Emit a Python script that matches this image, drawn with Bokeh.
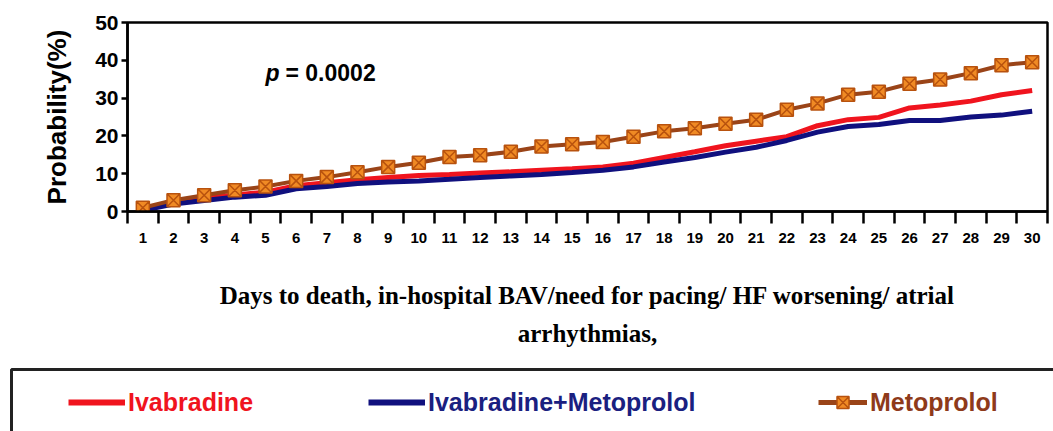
from bokeh.plotting import figure
from bokeh.models import FixedTicker, Label, Legend, LegendItem, Title, Range1d, BoxAnnotation
from bokeh.layouts import column, row
from bokeh.embed import file_html
from bokeh.resources import INLINE

days = list(range(1, 31))
ivabradine = [0.5, 2.5, 3.6, 4.4, 5.1, 6.8, 7.6, 8.4, 9.0, 9.5, 9.8, 10.2, 10.5, 10.9, 11.3,
              11.8, 12.8, 14.3, 15.8, 17.4, 18.6, 19.8, 22.7, 24.3, 24.9, 27.4, 28.2, 29.2, 30.9, 32.0]
ivab_meto = [0.3, 2.0, 2.9, 3.8, 4.3, 6.0, 6.6, 7.4, 7.8, 8.1, 8.5, 9.0, 9.4, 9.8, 10.3,
             10.9, 11.8, 13.1, 14.3, 15.7, 17.0, 18.8, 21.0, 22.5, 23.0, 24.1, 24.1, 25.0, 25.5, 26.5]
metoprolol = [1.0, 3.0, 4.3, 5.6, 6.6, 8.1, 9.1, 10.4, 11.8, 12.9, 14.4, 14.9, 15.8, 17.2, 17.8,
              18.4, 19.8, 21.2, 22.0, 23.2, 24.3, 26.9, 28.6, 30.9, 31.7, 33.8, 34.9, 36.6, 38.7, 39.5]
y_ticks = [0, 10, 20, 30, 40, 50]
series_names = ["Ivabradine", "Ivabradine+Metoprolol", "Metoprolol"]

RED = "#F0141E"
NAVY = "#10107E"
BROWN = "#9A4418"
ORANGE = "#F08A24"
SANS = "Liberation Sans"

p = figure(width=1053, height=360, x_range=(0.5, 30.5), y_range=(0, 50),
           output_backend="svg", toolbar_location=None,
           min_border_left=127, min_border_right=6, min_border_top=22, min_border_bottom=149)
p.xgrid.visible = False
p.ygrid.visible = False
p.outline_line_color = "black"
p.outline_line_width = 2.5

# y axis
p.yaxis.ticker = FixedTicker(ticks=y_ticks)
p.yaxis.axis_line_width = 2.5
p.yaxis.major_tick_line_width = 2.5
p.yaxis.major_tick_out = 6
p.yaxis.major_tick_in = 0
p.yaxis.minor_tick_line_color = None
p.yaxis.major_label_text_font = SANS
p.yaxis.major_label_text_font_style = "bold"
p.yaxis.major_label_text_font_size = "21px"
p.yaxis.major_label_text_color = "black"
p.yaxis.major_label_standoff = 3
p.yaxis.axis_label = "Probability(%)"
p.yaxis.axis_label_text_font = SANS
p.yaxis.axis_label_text_font_style = "bold"
p.yaxis.axis_label_text_font_size = "26px"
p.yaxis.axis_label_text_color = "black"
p.yaxis.axis_label_standoff = 20

# x axis
p.xaxis.ticker = FixedTicker(ticks=days, minor_ticks=[d - 0.5 for d in days] + [30.5])
p.xaxis.axis_line_width = 2.5
p.xaxis.major_tick_out = 0
p.xaxis.major_tick_in = 0
p.xaxis.minor_tick_out = 12
p.xaxis.minor_tick_in = 0
p.xaxis.minor_tick_line_color = "black"
p.xaxis.minor_tick_line_width = 2.5
p.xaxis.major_label_text_font = SANS
p.xaxis.major_label_text_font_style = "bold"
p.xaxis.major_label_text_font_size = "15px"
p.xaxis.major_label_text_color = "black"
p.xaxis.major_label_standoff = 9
p.xaxis.axis_label = "Days to death, in-hospital BAV/need for pacing/ HF worsening/ atrial"
p.xaxis.axis_label_text_font = "Liberation Serif"
p.xaxis.axis_label_text_font_style = "bold"
p.xaxis.axis_label_text_font_size = "25px"
p.xaxis.axis_label_text_color = "black"
p.xaxis.axis_label_standoff = 36

p.add_layout(Title(text="arrhythmias,", align="center", text_font="Liberation Serif",
                   text_font_style="bold", text_font_size="25px", text_color="black",
                   standoff=12), "below")

r_red = p.line(days, ivabradine, line_color=RED, line_width=5)
r_blue = p.line(days, ivab_meto, line_color=NAVY, line_width=5)
r_brown = p.line(days, metoprolol, line_color=BROWN, line_width=4)
r_mark = p.scatter(days, metoprolol, marker="square_x", size=13, fill_color=ORANGE,
                   line_color="#B8520E", line_width=1.5)

p.add_layout(Label(x=138, y=139, x_units="screen", y_units="screen", text="p",
                   text_font=SANS, text_font_style="bold italic",
                   text_font_size="23px", text_baseline="middle", text_color="black"))
p.add_layout(Label(x=158, y=139, x_units="screen", y_units="screen", text="= 0.0002",
                   text_font=SANS, text_font_style="bold",
                   text_font_size="23px", text_baseline="middle", text_color="black"))

# legend strip; proxy renderers lie outside its ranges, the box is cut by the page edge
lg_fig = figure(width=1053, height=71, x_range=Range1d(-1064, -20), y_range=Range1d(-84, -20),
                output_backend="svg", toolbar_location=None,
                x_axis_location=None, y_axis_location=None,
                min_border_left=9, min_border_right=0, min_border_top=7, min_border_bottom=0)
lg_fig.xgrid.visible = False
lg_fig.ygrid.visible = False
lg_fig.outline_line_color = None
lg_fig.add_layout(BoxAnnotation(left=-1062, right=200, top=-22, bottom=-300,
                                fill_alpha=0, line_color="#222222", line_alpha=1.0,
                                line_width=3))

q_red = lg_fig.line(days, ivabradine, line_color=RED, line_width=6)
q_blue = lg_fig.line(days, ivab_meto, line_color=NAVY, line_width=6)
q_brown = lg_fig.line(days, metoprolol, line_color=BROWN, line_width=5)
q_mark = lg_fig.scatter(days, metoprolol, marker="square_x", size=13, fill_color=ORANGE,
                        line_color="#B8520E", line_width=1.5)

legend_specs = [
    (series_names[0], [q_red], RED, 59, 57),
    (series_names[1], [q_blue], "#1A2080", 359, 57),
    (series_names[2], [q_brown, q_mark], "#8E3A1A", 809, 49),
]
for name, rends, col, lx, gw in legend_specs:
    lg = Legend(items=[LegendItem(label=name, renderers=rends)], location=(lx, 14),
                orientation="horizontal", padding=0, margin=0, spacing=0,
                border_line_alpha=0, background_fill_alpha=0,
                glyph_width=gw, glyph_height=30, label_height=30, label_standoff=3,
                label_text_font=SANS, label_text_font_style="bold",
                label_text_font_size="25px", label_text_color=col)
    lg_fig.add_layout(lg)

layout = column(p, row(lg_fig), spacing=0)
open("out.html", "w").write(file_html(layout, INLINE))
